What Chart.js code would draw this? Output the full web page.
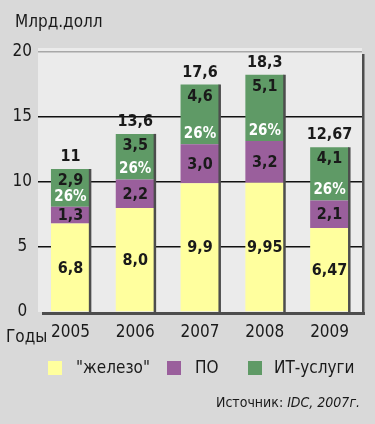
<!DOCTYPE html>
<html>
<head>
<meta charset="utf-8">
<script src="https://cdn.jsdelivr.net/npm/chart.js@4.4.1/dist/chart.umd.min.js"></script>
<style>
  html, body { margin: 0; padding: 0; background: #d9d9d9; }
  #wrap { width: 375px; height: 424px; position: relative; }
</style>
</head>
<body>
<div id="wrap"><canvas id="chart" width="375" height="424"></canvas></div>
<script>
// data
const years = ['2005', '2006', '2007', '2008', '2009'];
const hardware = [6.8, 8.0, 9.9, 9.95, 6.47];
const software = [1.3, 2.2, 3.0, 3.2, 2.1];
const services = [2.9, 3.5, 4.6, 5.1, 4.1];
const serviceShare = ['26%', '26%', '26%', '26%', '26%'];
const totals = ['11', '13,6', '17,6', '18,3', '12,67'];
const yTicks = [0, 5, 10, 15, 20];

const FONT = '"Liberation Sans Narrow", "DejaVu Sans Condensed", "Liberation Sans", sans-serif';

function fmt(v) {
    let s = v.toFixed(2);
    if (s.endsWith('0')) s = s.slice(0, -1);
    return s.replace('.', ',');
}

const decor = {
    id: 'decor',
    beforeDraw(chart) {
        const c = chart.ctx, a = chart.chartArea;
        c.save();
        c.fillStyle = '#d9d9d9';
        c.fillRect(0, 0, chart.width, chart.height);
        c.fillStyle = '#ebebeb';
        c.fillRect(a.left, a.top - 4, a.right - a.left, a.bottom - a.top + 4);
        c.restore();
    },
    afterDatasetsDraw(chart) {
        const c = chart.ctx, a = chart.chartArea;
        const last = chart.getDatasetMeta(2);
        c.save();
        // shadow on the right of every bar
        c.fillStyle = '#4d4d4d';
        last.data.forEach(b => {
            c.fillRect(b.x + b.width / 2 - 1, b.y, 2.5, a.bottom - b.y);
        });
        // right border and base line
        c.fillRect(a.right, a.top + 2, 2.5, a.bottom - a.top + 1);
        c.fillRect(a.left + 4, a.bottom, a.right - a.left - 1, 3);

        c.textAlign = 'center';
        c.textBaseline = 'middle';
        [0, 1, 2].forEach(di => {
            const meta = chart.getDatasetMeta(di);
            const vals = chart.data.datasets[di].data;
            meta.data.forEach((b, i) => {
                c.fillStyle = '#1a1a1a';
                c.font = 'bold 16px ' + FONT;
                if (di < 2) {
                    c.fillText(fmt(vals[i]), b.x, (b.y + b.base) / 2 + 1);
                } else {
                    c.fillText(fmt(vals[i]), b.x, b.y + 12);
                    c.fillStyle = '#ffffff';
                    c.font = 'bold 15px ' + FONT;
                    c.fillText(serviceShare[i], b.x, b.base - 10);
                }
            });
        });
        // totals above bars
        c.fillStyle = '#1a1a1a';
        c.font = 'bold 16px ' + FONT;
        last.data.forEach((b, i) => {
            c.fillText(totals[i], b.x, b.y - 12);
        });

        // texts outside the plot
        c.textAlign = 'left';
        c.font = '17px ' + FONT;
        c.fillText('Млрд.долл', 15, 23);
        c.fillText('Годы', 6, 338);

        // legend
        const legX = [48, 167, 248];
        const txtX = [76, 195, 274];
        chart.data.datasets.forEach((ds, i) => {
            c.fillStyle = ds.backgroundColor;
            c.fillRect(legX[i], 361, 14, 14);
            c.fillStyle = '#1a1a1a';
            c.font = '17px ' + FONT;
            c.fillText(ds.label, txtX[i], 369);
        });

        // source
        const p1 = 'Источник: ', p2 = 'IDC, 2007г.';
        c.font = 'italic 14px ' + FONT;
        const w2 = c.measureText(p2).width;
        c.font = '14px ' + FONT;
        const w1 = c.measureText(p1).width;
        const x0 = 360 - w1 - w2;
        c.fillText(p1, x0, 403);
        c.font = 'italic 14px ' + FONT;
        c.fillText(p2, x0 + w1, 403);
        c.restore();
    }
};

new Chart(document.getElementById('chart'), {
    type: 'bar',
    data: {
        labels: years,
        datasets: [
            { label: '"железо"', data: hardware, backgroundColor: '#ffff9e' },
            { label: 'ПО', data: software, backgroundColor: '#9a5f9c' },
            { label: 'ИТ-услуги', data: services, backgroundColor: '#5f9a66' }
        ]
    },
    options: {
        responsive: false,
        animation: false,
        events: [],
        layout: { padding: { left: 0, right: 13, top: 52, bottom: 0 } },
        datasets: { bar: { categoryPercentage: 1, barPercentage: 0.6, borderWidth: 0 } },
        plugins: { legend: { display: false }, tooltip: { enabled: false } },
        scales: {
            x: {
                stacked: true,
                grid: { display: false, drawTicks: false },
                border: { display: false },
                ticks: { color: '#1a1a1a', padding: 10, font: { family: FONT, size: 17 } },
                afterFit: s => { s.height = 112; }
            },
            y: {
                stacked: true,
                min: 0,
                max: 20,
                afterBuildTicks: s => { s.ticks = yTicks.map(v => ({ value: v })); },
                grid: {
                    drawTicks: false,
                    lineWidth: 1.5,
                    color: ctx => ctx.tick && ctx.tick.value === 20 ? '#a8a8a8' : ctx.tick && ctx.tick.value === 0 ? 'rgba(0,0,0,0)' : '#111111'
                },
                border: { display: false },
                ticks: { color: '#1a1a1a', padding: 6, crossAlign: 'center', font: { family: FONT, size: 17 } },
                afterFit: s => { s.width = 38; }
            }
        }
    },
    plugins: [decor]
});
</script>
</body>
</html>
